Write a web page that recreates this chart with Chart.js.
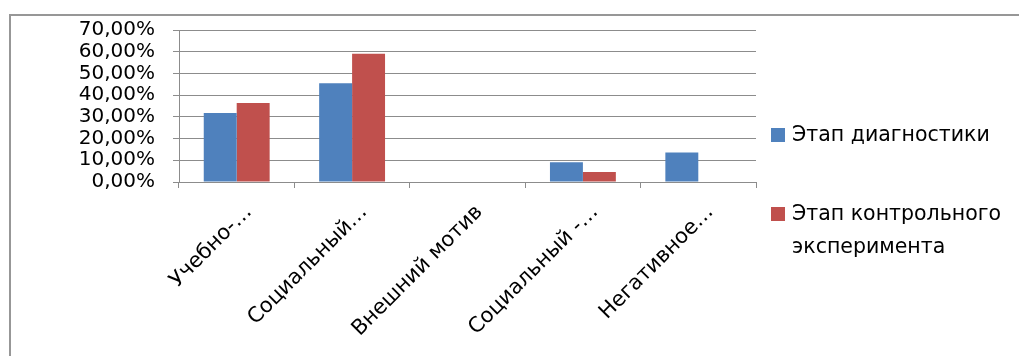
<!DOCTYPE html>
<html>
<head>
<meta charset="utf-8">
<script src="https://cdn.jsdelivr.net/npm/chart.js@4/dist/chart.umd.min.js"></script>
<style>
  html, body { margin: 0; padding: 0; background: #fff; }
  #wrap { position: relative; width: 1019px; height: 356px; overflow: hidden; background: #fff; }
  #frame { position: absolute; left: 9px; top: 14px; width: 1030px; height: 360px;
           border-left: 2px solid #979797; border-top: 2px solid #979797; }
  #chart { position: absolute; left: 0; top: 0; }
  #legend { position: absolute; left: 771px; top: 0; font-family: "DejaVu Sans", sans-serif;
            font-size: 20.5px; color: #000; }
  .item { position: absolute; left: 0; display: flex; align-items: flex-start; }
  .sw { width: 14px; height: 14px; margin-top: 10px; flex: none; }
  .tx { margin-left: 7px; line-height: 33px; width: 232px; }
</style>
</head>
<body>
<div id="wrap">
  <div id="frame"></div>
  <canvas id="chart" width="1019" height="356"></canvas>
  <div id="legend"></div>
</div>
<script>
// Motive categories (labels shortened as shown on the axis)
const categories = ['Учебно-…', 'Социальный…', 'Внешний мотив', 'Социальный -…', 'Негативное…'];
// Share of pupils, %
const diagnostics = [31.82, 45.45, 0, 9.09, 13.64];
const control = [36.36, 59.09, 0, 4.55, 0];
const seriesNames = ['Этап диагностики', 'Этап контрольного эксперимента'];
const seriesColors = ['#4F81BD', '#C0504D'];
const yTicks = { min: 0, max: 70, step: 10 };

const family = '"DejaVu Sans", sans-serif';
const gridColor = '#8c8c8c';

const chart = new Chart(document.getElementById('chart'), {
  type: 'bar',
  data: {
    labels: categories,
    datasets: [
      { label: seriesNames[0], data: diagnostics, backgroundColor: seriesColors[0], borderWidth: 0 },
      { label: seriesNames[1], data: control, backgroundColor: seriesColors[1], borderWidth: 0 }
    ]
  },
  options: {
    responsive: false,
    animation: false,
    layout: { padding: { left: 0, right: 263, top: 29, bottom: 0 } },
    datasets: { bar: { categoryPercentage: 0.571, barPercentage: 1 } },
    plugins: { legend: { display: false }, tooltip: { enabled: false } },
    scales: {
      x: {
        grid: { offset: true, drawOnChartArea: false, drawTicks: true, tickLength: 6, color: gridColor },
        border: { color: gridColor },
        ticks: { font: { family: family, size: 21 }, color: '#000', maxRotation: 45, minRotation: 45,
                 autoSkip: false, padding: 12, labelOffset: 12 },
        afterFit: s => { s.height = 174; }
      },
      y: {
        min: yTicks.min, max: yTicks.max,
        grid: { color: gridColor, tickLength: 6 },
        border: { color: gridColor },
        ticks: {
          stepSize: yTicks.step, font: { family: family, size: 20 }, color: '#000', padding: 18,
          autoSkip: false,
          callback: v => v.toFixed(2).replace('.', ',') + '%'
        },
        afterFit: s => { s.width = 179; }
      }
    }
  }
});

// Legend built from the datasets
const legend = document.getElementById('legend');
const tops = [118, 197];
chart.data.datasets.forEach((ds, i) => {
  const item = document.createElement('div');
  item.className = 'item';
  item.style.top = tops[i] + 'px';
  const sw = document.createElement('div');
  sw.className = 'sw';
  sw.style.background = ds.backgroundColor;
  const tx = document.createElement('div');
  tx.className = 'tx';
  tx.textContent = ds.label;
  item.appendChild(sw);
  item.appendChild(tx);
  legend.appendChild(item);
});
</script>
</body>
</html>
